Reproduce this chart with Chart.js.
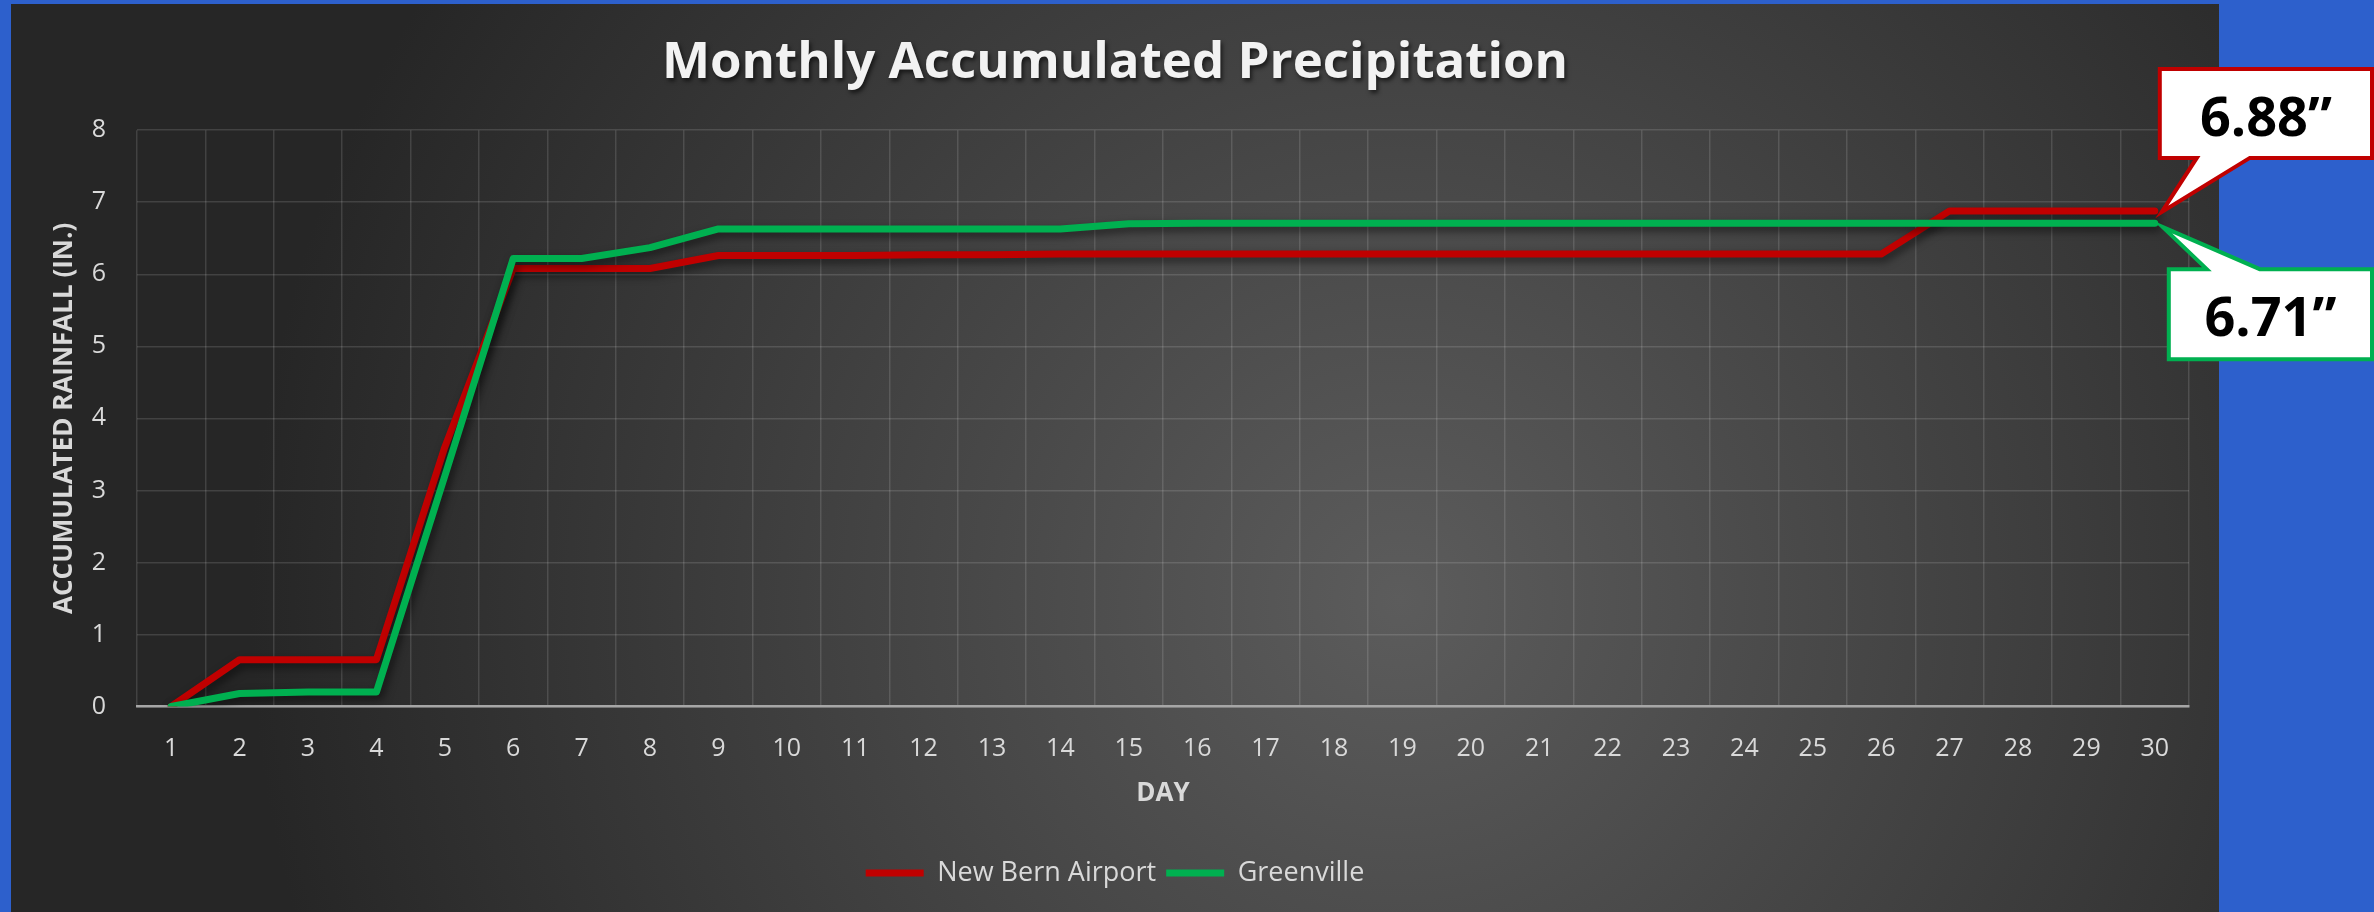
<!DOCTYPE html>
<html>
<head>
<meta charset="utf-8">
<script src="https://cdn.jsdelivr.net/npm/chart.js@4.4.1/dist/chart.umd.min.js"></script>
<style>
  html, body { margin: 0; padding: 0; background: #2d60cc; }
  #wrap { width: 2374px; height: 912px; }
</style>
</head>
<body>
<div id="wrap"><canvas id="rain" width="2374" height="912"></canvas></div>
<script>
const days = ['1', '2', '3', '4', '5', '6', '7', '8', '9', '10',
  '11', '12', '13', '14', '15', '16', '17', '18', '19', '20',
  '21', '22', '23', '24', '25', '26', '27', '28', '29', '30'];

const newBern = [0, 0.65, 0.65, 0.65, 3.6, 6.08, 6.08, 6.08, 6.26, 6.26,
  6.26, 6.27, 6.27, 6.28, 6.28, 6.28, 6.28, 6.28, 6.28, 6.28,
  6.28, 6.28, 6.28, 6.28, 6.28, 6.28, 6.88, 6.88, 6.88, 6.88];

const greenville = [0, 0.18, 0.2, 0.2, 3.2, 6.22, 6.22, 6.37, 6.63, 6.63,
  6.63, 6.63, 6.63, 6.63, 6.70, 6.71, 6.71, 6.71, 6.71, 6.71,
  6.71, 6.71, 6.71, 6.71, 6.71, 6.71, 6.71, 6.71, 6.71, 6.71];

const seriesNames = ['New Bern Airport', 'Greenville'];
const seriesColors = ['#c00000', '#00b050'];
const yMin = 0, yMax = 8, yStep = 1;

const titleText = 'Monthly Accumulated Precipitation';
const titleFont = { family: 'Open Sans', size: 51, weight: 'bold' };
const gridColor = 'rgba(255,255,255,0.13)';
const labelColor = '#d9d9d9';

// dark panel, line shadows, title with shadow, end-value callouts
const decor = {
  id: 'decor',
  beforeDraw(chart) {
    const ctx = chart.ctx;
    const g = ctx.createRadialGradient(1400, 600, 0, 1400, 600, 1150);
    g.addColorStop(0, '#5c5c5c');
    g.addColorStop(1, '#262626');
    ctx.save();
    ctx.fillStyle = g;
    ctx.fillRect(11, 4, 2208, 908);
    ctx.restore();
  },
  beforeDatasetsDraw(chart) {
    const ctx = chart.ctx;
    ctx.save();
    ctx.shadowColor = 'rgba(0,0,0,0.55)';
    ctx.shadowBlur = 8;
    ctx.shadowOffsetX = 3;
    ctx.shadowOffsetY = 4;
  },
  afterDatasetsDraw(chart) {
    chart.ctx.restore();
  },
  afterDraw(chart) {
    const ctx = chart.ctx;
    const tb = chart.titleBlock;
    const pad = tb.options.padding;
    const lh = titleFont.size * 1.2;
    ctx.save();
    ctx.font = 'bold ' + titleFont.size + 'px "Open Sans"';
    ctx.fillStyle = '#f2f2f2';
    ctx.textAlign = 'center';
    ctx.textBaseline = 'middle';
    ctx.shadowColor = 'rgba(0,0,0,0.6)';
    ctx.shadowBlur = 4;
    ctx.shadowOffsetX = 2;
    ctx.shadowOffsetY = 3;
    ctx.fillText(titleText, (tb.left + tb.right) / 2, tb.top + pad.top + lh / 2);
    ctx.restore();

    const last = days.length - 1;
    const pr = chart.getDatasetMeta(0).data[last];
    const pg = chart.getDatasetMeta(1).data[last];
    callout(ctx, { l: pr.x + 5, t: pr.y - 142, r: 2372, b: pr.y - 53 },
      'bottom', pr.x + 42, pr.x + 95, pr.x + 7, pr.y + 1,
      seriesColors[0], newBern[last].toFixed(2) + '\u201D');
    callout(ctx, { l: pg.x + 14, t: pg.y + 46, r: 2372, b: pg.y + 136 },
      'top', pg.x + 52, pg.x + 105, pg.x + 8, pg.y + 4,
      seriesColors[1], greenville[last].toFixed(2) + '\u201D');
  }
};

function callout(ctx, box, side, a, b, tx, ty, color, text) {
  ctx.save();
  ctx.beginPath();
  ctx.moveTo(box.l, box.t);
  if (side === 'top') {
    ctx.lineTo(a, box.t);
    ctx.lineTo(tx, ty);
    ctx.lineTo(b, box.t);
  }
  ctx.lineTo(box.r, box.t);
  ctx.lineTo(box.r, box.b);
  if (side === 'bottom') {
    ctx.lineTo(b, box.b);
    ctx.lineTo(tx, ty);
    ctx.lineTo(a, box.b);
  }
  ctx.lineTo(box.l, box.b);
  ctx.closePath();
  ctx.fillStyle = '#ffffff';
  ctx.fill();
  ctx.lineWidth = 4;
  ctx.lineJoin = 'miter';
  ctx.strokeStyle = color;
  ctx.stroke();
  ctx.fillStyle = '#000000';
  ctx.font = 'bold 54px "Open Sans"';
  ctx.textAlign = 'center';
  ctx.textBaseline = 'alphabetic';
  ctx.fillText(text, (box.l + box.r) / 2, box.t + 67);
  ctx.restore();
}

const chart = new Chart(document.getElementById('rain'), {
  type: 'line',
  data: {
    labels: days,
    datasets: [{
      label: seriesNames[0],
      data: newBern,
      borderColor: seriesColors[0],
      backgroundColor: seriesColors[0],
      borderWidth: 7,
      borderCapStyle: 'round',
      borderJoinStyle: 'round',
      pointRadius: 0,
      tension: 0,
      order: 1
    }, {
      label: seriesNames[1],
      data: greenville,
      borderColor: seriesColors[1],
      backgroundColor: seriesColors[1],
      borderWidth: 7,
      borderCapStyle: 'round',
      borderJoinStyle: 'round',
      pointRadius: 0,
      tension: 0,
      order: 0
    }]
  },
  options: {
    responsive: false,
    animation: false,
    layout: { padding: { left: 11, right: 155, top: 4, bottom: 15.5 } },
    plugins: {
      title: {
        display: true,
        text: titleText,
        color: 'rgba(0,0,0,0)',
        font: titleFont,
        padding: { top: 29, bottom: 36 }
      },
      legend: {
        position: 'bottom',
        labels: {
          color: labelColor,
          font: { family: 'Open Sans', size: 27 },
          usePointStyle: true,
          pointStyle: 'line',
          pointStyleWidth: 58,
          padding: 10,
          sort: (a, b) => a.datasetIndex - b.datasetIndex
        }
      },
      tooltip: { enabled: false }
    },
    scales: {
      x: {
        offset: true,
        grid: { offset: true, color: gridColor, lineWidth: 1.5, drawTicks: false },
        border: { display: true, color: '#a6a6a6', width: 2.5 },
        ticks: {
          color: labelColor,
          font: { family: 'Open Sans', size: 25 },
          padding: 27,
          autoSkip: false,
          maxRotation: 0
        },
        title: {
          display: true,
          text: 'DAY',
          color: labelColor,
          font: { family: 'Open Sans', size: 26, weight: 'bold' },
          padding: { top: 0, bottom: 40 }
        },
        afterFit: (s) => { s.height = 143; }
      },
      y: {
        min: yMin,
        max: yMax,
        grid: { color: gridColor, lineWidth: 1.5, drawTicks: false },
        border: { display: false },
        ticks: {
          stepSize: yStep,
          color: labelColor,
          font: { family: 'Open Sans', size: 25 },
          padding: 31
        },
        title: {
          display: true,
          text: 'ACCUMULATED RAINFALL (IN.)',
          color: labelColor,
          font: { family: 'Open Sans', size: 26, weight: 'bold' },
          padding: { top: 38, bottom: 0 }
        },
        afterFit: (s) => { s.width = 126; }
      },
      yRight: {
        position: 'right',
        grid: { display: false },
        border: { display: false },
        ticks: { display: false },
        afterFit: (s) => { s.width = 30; }
      }
    }
  },
  plugins: [decor]
});
</script>
</body>
</html>
